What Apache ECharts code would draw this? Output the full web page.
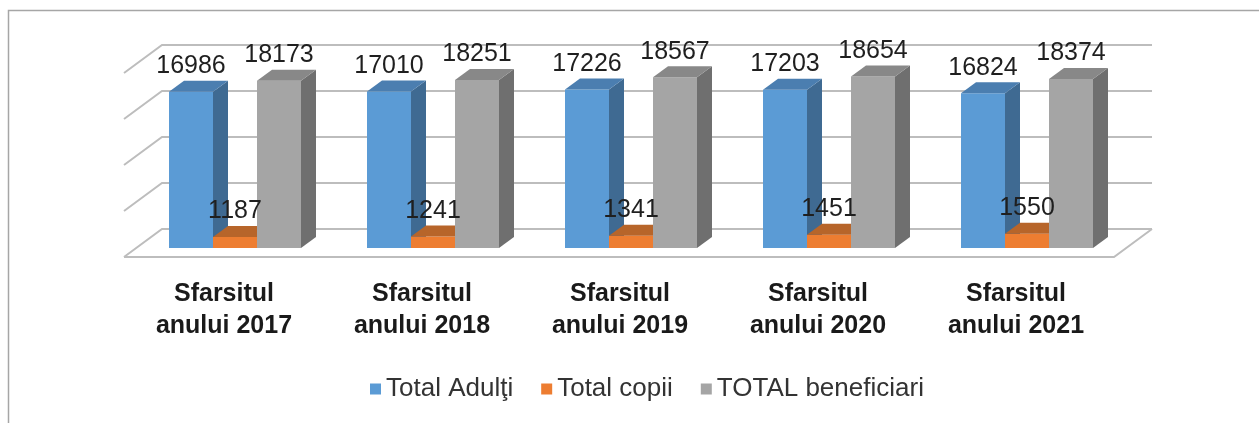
<!DOCTYPE html>
<html>
<head>
<meta charset="utf-8">
<title>Beneficiari</title>
<script src="https://cdn.jsdelivr.net/npm/echarts@6/dist/echarts.min.js"></script>
<style>
  html, body { margin: 0; padding: 0; background: #fff; }
  #chart { width: 1259px; height: 423px; }
</style>
</head>
<body>
<div id="chart"></div>
<script>
// date
var categories = ['Sfarsitul\nanului 2017', 'Sfarsitul\nanului 2018', 'Sfarsitul\nanului 2019', 'Sfarsitul\nanului 2020', 'Sfarsitul\nanului 2021'];
var adulti = [16986, 17010, 17226, 17203, 16824];
var copii = [1187, 1241, 1341, 1451, 1550];
var totalBeneficiari = [18173, 18251, 18567, 18654, 18374];
var yTicks = [0, 5000, 10000, 15000, 20000];
var seriesNames = ['Total Adulţi', 'Total copii', 'TOTAL beneficiari'];

// culori: fata, varf, lateral
var shades = [
  ['#5B9BD5', '#4B7EB0', '#3F6A92'],
  ['#ED7D31', '#B7652A', '#A65A24'],
  ['#A5A5A5', '#888888', '#6F6F6F']
];

var BAR_W = 44, DX = 15, DY = -11;      // adancimea barei
var WALL_DX = 26, WALL_DY = -19;         // peretele din spate
var FLOOR_DX = -12, FLOOR_DY = 9;        // marginea din fata a podelei
var FONT = '"Liberation Sans", Arial, sans-serif';

var chart = echarts.init(document.getElementById('chart'));

function barRender(sIdx) {
  return function (params, api) {
    var idx = api.value(0);
    var pt = api.coord([idx, api.value(1)]);
    var base = api.coord([idx, 0]);
    var x0 = pt[0] - BAR_W * 1.5 + sIdx * BAR_W;
    var top = pt[1], bot = base[1];
    var c = shades[sIdx];
    return {
      type: 'group',
      children: [
        { type: 'polygon', shape: { points: [[x0 + BAR_W, top], [x0 + BAR_W + DX, top + DY], [x0 + BAR_W + DX, bot + DY], [x0 + BAR_W, bot]] }, style: { fill: c[2] } },
        { type: 'rect', shape: { x: x0, y: top, width: BAR_W, height: bot - top }, style: { fill: c[0] } },
        { type: 'polygon', shape: { points: [[x0, top], [x0 + DX, top + DY], [x0 + BAR_W + DX, top + DY], [x0 + BAR_W, top]] }, style: { fill: c[1] } }
      ]
    };
  };
}

function labelRender(sIdx) {
  return function (params, api) {
    var val = api.value(1);
    var pt = api.coord([api.value(0), val]);
    var x0 = pt[0] - BAR_W * 1.5 + sIdx * BAR_W;
    return { type: 'text', x: x0 + BAR_W / 2, y: pt[1] - 13, style: { text: String(val), align: 'center', verticalAlign: 'bottom', font: '25px ' + FONT, fill: '#1f1f1f' } };
  };
}

function wallRender(params, api) {
  var cs = params.coordSys;
  var y = api.coord([0, api.value(1)])[1];
  var gx0 = cs.x, gx1 = cs.x + cs.width;
  var ls = { stroke: '#BDBDBD', lineWidth: 2, fill: null };
  var kids = [
    { type: 'polyline', shape: { points: [[gx0 + FLOOR_DX, y + FLOOR_DY], [gx0 + WALL_DX, y + WALL_DY], [gx1 + WALL_DX, y + WALL_DY]] }, style: ls }
  ];
  if (api.value(1) === 0) {
    kids.push({ type: 'polyline', shape: { points: [[gx0 + FLOOR_DX, y + FLOOR_DY], [gx1 + FLOOR_DX, y + FLOOR_DY], [gx1 + WALL_DX, y + WALL_DY]] }, style: ls });
  }
  return { type: 'group', children: kids };
}

var series = [{
  name: 'wall',
  type: 'custom',
  silent: true,
  renderItem: wallRender,
  data: yTicks.map(function (v) { return [0, v]; }),
  z: 1
}];
[adulti, copii, totalBeneficiari].forEach(function (arr, s) {
  var pts = arr.map(function (v, i) { return [i, v]; });
  series.push({
    name: seriesNames[s],
    type: 'custom',
    renderItem: barRender(s),
    itemStyle: { color: shades[s][0] },
    data: pts,
    z: 2
  });
  series.push({
    name: seriesNames[s] + ' etichete',
    type: 'custom',
    silent: true,
    renderItem: labelRender(s),
    data: pts,
    z: 3
  });
});

chart.setOption({
  animation: false,
  grid: { left: 136, top: 64, width: 990, height: 184 },
  xAxis: {
    type: 'category',
    data: categories,
    axisLine: { show: false },
    axisTick: { show: false },
    axisLabel: {
      margin: 30,
      padding: [0, 22, 0, 0],
      fontFamily: FONT,
      fontWeight: 'bold',
      fontSize: 25,
      lineHeight: 32,
      color: '#1a1a1a'
    }
  },
  yAxis: {
    type: 'value',
    min: 0,
    max: 20000,
    interval: 5000,
    show: false
  },
  legend: {
    data: seriesNames.map(function (n) { return { name: n, icon: 'rect' }; }),
    left: 365,
    top: 371,
    itemWidth: 11,
    itemHeight: 11,
    itemGap: 28,
    textStyle: {
      fontFamily: FONT,
      fontSize: 26,
      color: '#333'
    }
  },
  graphic: [
    { type: 'polyline', shape: { points: [[8.5, 423], [8.5, 10.5], [1259, 10.5]] }, style: { stroke: '#A6A6A6', lineWidth: 1.5, fill: null } }
  ],
  series: series
});
</script>
</body>
</html>
